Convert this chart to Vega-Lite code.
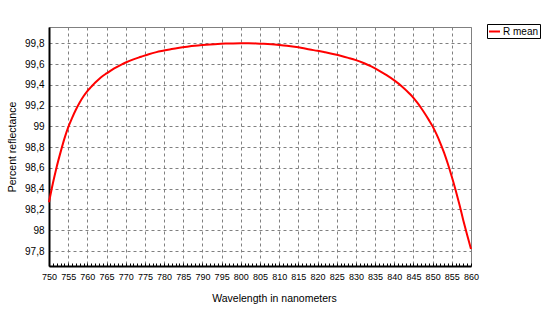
{
  "$schema": "https://vega.github.io/schema/vega-lite/v6.json",
  "width": 422,
  "height": 239,
  "autosize": {"type": "none"},
  "padding": {"left": 49, "top": 27, "right": 89, "bottom": 53},
  "background": "white",
  "config": {
    "view": {"stroke": "#808080", "strokeWidth": 1},
    "font": "Liberation Sans",
    "axis": {"labelFont": "Liberation Sans", "titleFont": "Liberation Sans", "labelColor": "black", "titleColor": "black", "labelFontSize": 10, "titleFontSize": 10.5, "titleFontWeight": "normal"}
  },
  "data": {"values": [
    {"wl": 750, "r": 98.27}, {"wl": 751, "r": 98.45}, {"wl": 752, "r": 98.61}, {"wl": 753, "r": 98.75},
    {"wl": 754, "r": 98.88}, {"wl": 755, "r": 98.99}, {"wl": 756, "r": 99.08}, {"wl": 757, "r": 99.16},
    {"wl": 758, "r": 99.23}, {"wl": 759, "r": 99.29}, {"wl": 760, "r": 99.34}, {"wl": 761, "r": 99.38},
    {"wl": 762, "r": 99.42}, {"wl": 763, "r": 99.455}, {"wl": 764, "r": 99.485}, {"wl": 765, "r": 99.51},
    {"wl": 766, "r": 99.535}, {"wl": 767, "r": 99.558}, {"wl": 768, "r": 99.579}, {"wl": 769, "r": 99.598},
    {"wl": 770, "r": 99.615}, {"wl": 772, "r": 99.645}, {"wl": 774, "r": 99.67}, {"wl": 776, "r": 99.695},
    {"wl": 778, "r": 99.715}, {"wl": 780, "r": 99.73}, {"wl": 782, "r": 99.745}, {"wl": 784, "r": 99.757},
    {"wl": 786, "r": 99.767}, {"wl": 788, "r": 99.776}, {"wl": 790, "r": 99.783}, {"wl": 792, "r": 99.789},
    {"wl": 794, "r": 99.794}, {"wl": 796, "r": 99.797}, {"wl": 798, "r": 99.799}, {"wl": 800, "r": 99.8},
    {"wl": 802, "r": 99.8}, {"wl": 804, "r": 99.799}, {"wl": 806, "r": 99.796}, {"wl": 808, "r": 99.791},
    {"wl": 810, "r": 99.784}, {"wl": 812, "r": 99.776}, {"wl": 814, "r": 99.766}, {"wl": 816, "r": 99.754},
    {"wl": 818, "r": 99.74}, {"wl": 820, "r": 99.728}, {"wl": 822, "r": 99.713}, {"wl": 824, "r": 99.697},
    {"wl": 826, "r": 99.68}, {"wl": 828, "r": 99.66}, {"wl": 830, "r": 99.638}, {"wl": 832, "r": 99.61},
    {"wl": 834, "r": 99.577}, {"wl": 836, "r": 99.538}, {"wl": 838, "r": 99.493}, {"wl": 840, "r": 99.443},
    {"wl": 842, "r": 99.385}, {"wl": 844, "r": 99.315}, {"wl": 845, "r": 99.275}, {"wl": 846, "r": 99.228},
    {"wl": 847, "r": 99.177}, {"wl": 848, "r": 99.122}, {"wl": 849, "r": 99.063}, {"wl": 850, "r": 99.0},
    {"wl": 851, "r": 98.925}, {"wl": 852, "r": 98.84}, {"wl": 853, "r": 98.745}, {"wl": 854, "r": 98.635},
    {"wl": 855, "r": 98.515}, {"wl": 856, "r": 98.385}, {"wl": 857, "r": 98.245}, {"wl": 858, "r": 98.095},
    {"wl": 859, "r": 97.955}, {"wl": 860, "r": 97.82}
  ]},
  "layer": [
    {
      "mark": {"type": "line", "strokeWidth": 2, "interpolate": "monotone"},
      "encoding": {
        "x": {"field": "wl", "type": "quantitative", "scale": {"domain": [750, 860], "nice": false, "zero": false},
          "axis": {"title": "Wavelength in nanometers", "titleX": 225, "titleY": 32, "titleBaseline": "middle",
            "values": [750,755,760,765,770,775,780,785,790,795,800,805,810,815,820,825,830,835,840,845,850,855,860],
            "ticks": false, "labelPadding": 6, "labelOverlap": false, "labelFlush": false, "labelFontSize": 9,
            "domainColor": "black", "domainWidth": 2,
            "grid": true, "gridColor": "#808080", "gridDash": [3, 3], "gridWidth": 1}},
        "y": {"field": "r", "type": "quantitative", "scale": {"domain": [97.656, 99.957], "nice": false, "zero": false},
          "axis": {"title": "Percent reflectance", "titleX": -37, "titleY": 119.5, "titleAngle": -90, "titleBaseline": "middle", "titleAlign": "center",
            "values": [97.8, 98, 98.2, 98.4, 98.6, 98.8, 99, 99.2, 99.4, 99.6, 99.8],
            "labelExpr": "replace(format(datum.value, '~g'), '.', ',')",
            "ticks": false, "labelPadding": 5, "labelOverlap": false,
            "domainColor": "black", "domainWidth": 2,
            "grid": true, "gridColor": "#808080", "gridDash": [3, 3], "gridWidth": 1}},
        "color": {"datum": "R mean", "type": "nominal", "scale": {"range": ["#ff0000"]},
          "legend": {"title": null, "orient": "none", "legendX": 438, "legendY": -3, "fillColor": "white", "strokeColor": "black",
            "padding": 1, "symbolType": "stroke", "symbolStrokeWidth": 2, "symbolSize": 121, "labelFontSize": 10, "labelFont": "Liberation Sans", "labelColor": "black", "labelOffset": 2}}
      }
    },
    {
      "mark": {"type": "rule", "opacity": 0},
      "encoding": {
        "x": {"field": "wl", "type": "quantitative",
          "axis": {"orient": "bottom", "title": null, "labels": false, "domain": false, "grid": false,
            "values": [750,751,752,753,754,755,756,757,758,759,760,761,762,763,764,765,766,767,768,769,770,771,772,773,774,775,776,777,778,779,780,781,782,783,784,785,786,787,788,789,790,791,792,793,794,795,796,797,798,799,800,801,802,803,804,805,806,807,808,809,810,811,812,813,814,815,816,817,818,819,820,821,822,823,824,825,826,827,828,829,830,831,832,833,834,835,836,837,838,839,840,841,842,843,844,845,846,847,848,849,850,851,852,853,854,855,856,857,858,859,860],
            "ticks": true, "tickSize": -3, "tickColor": "black", "tickWidth": 1}}
      }
    }
  ],
  "resolve": {"axis": {"x": "independent"}}
}
